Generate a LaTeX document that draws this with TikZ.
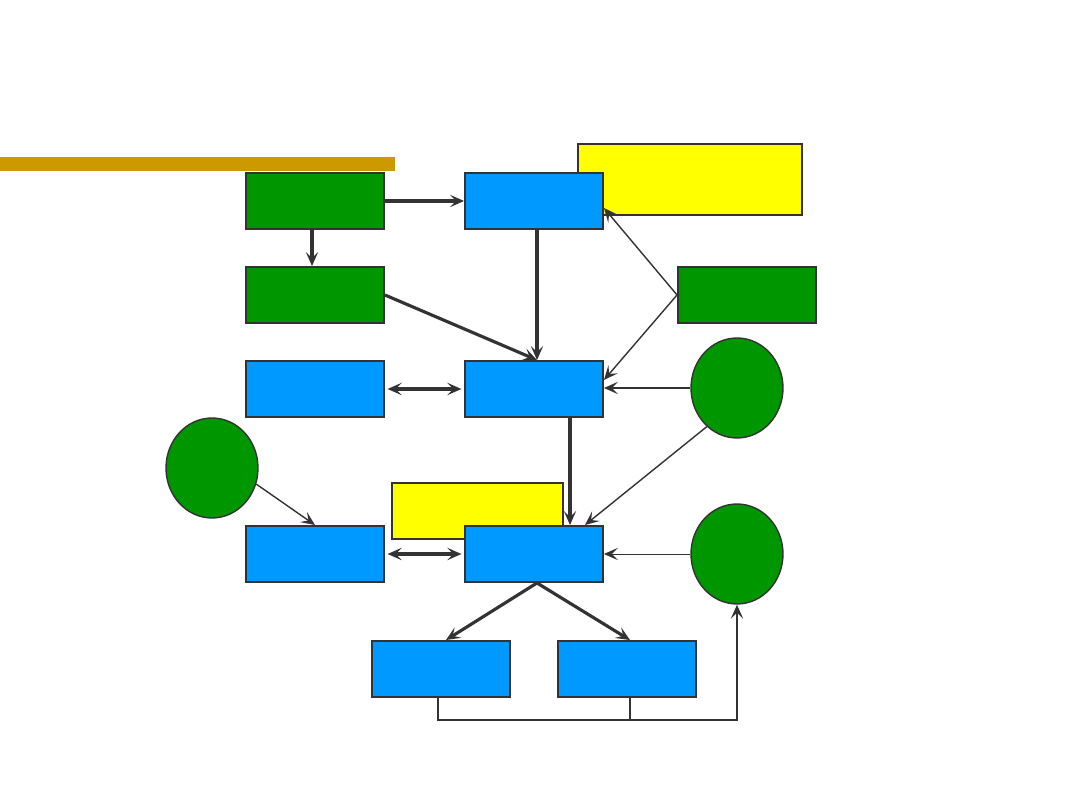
\documentclass[tikz,border=0pt]{standalone}
\usepackage{xcolor}
\usepackage{tikz}
\usetikzlibrary{shapes.geometric, arrows.meta, positioning, calc}
\definecolor{mydark}{RGB}{51,51,51}
\definecolor{boxgreen}{RGB}{0,150,0}
\definecolor{boxblue}{RGB}{0,153,255}
\definecolor{noteyellow}{RGB}{255,255,0}
\definecolor{bargold}{RGB}{204,153,0}
\tikzset{
  greenblock/.style={rectangle,draw=mydark,fill=boxgreen,minimum width=2.76cm,
    minimum height=1.12cm,inner sep=0pt,line width=1.1pt},
  blueblock/.style={rectangle,draw=mydark,fill=boxblue,minimum width=2.76cm,
    minimum height=1.12cm,inner sep=0pt,line width=1.1pt},
  noteblock/.style={rectangle,draw=mydark,fill=noteyellow,inner sep=0pt,line width=0.7pt},
  greencirc/.style={ellipse,draw=mydark,fill=boxgreen,minimum width=1.84cm,
    minimum height=2cm,inner sep=0pt,line width=0.8pt},
  tip/.style={-{Stealth[length=8pt,width=7pt,inset=3.5pt]}},
  arrow/.style={tip,line width=1.8pt,draw=mydark},
  darrow/.style={{Stealth[length=8pt,width=7pt,inset=3.5pt]}-{Stealth[length=8pt,width=7pt,inset=3.5pt]},
    line width=1.8pt,draw=mydark,shorten <=1.5pt,shorten >=1.5pt},
  medarrow/.style={tip,line width=1.2pt,draw=mydark},
  thinarrow/.style={tip,line width=0.8pt,draw=mydark},
  line/.style={line width=0.6pt,draw=mydark}
}
\begin{document}
\begin{tikzpicture}[x=0.02cm,y=-0.02cm]
  \useasboundingbox (0,0) rectangle (1080,810);
  \fill[bargold] (0,157) rectangle (395,171);

  % notes behind the blocks
  \node[noteblock, minimum width=4.48cm, minimum height=1.42cm] (note1) at (690,179.5) {};
  \node[noteblock, minimum width=3.42cm, minimum height=1.12cm] (note2) at (477.5,511) {};

  \node[greenblock] (g1) at (315,201) {};
  \node[blueblock]  (b1) at (534,201) {};
  \node[greenblock] (g2) at (315,295) {};
  \node[greenblock] (g3) at (747,295) {};
  \node[blueblock]  (b2) at (315,389) {};
  \node[blueblock]  (b3) at (534,389) {};
  \node[greencirc]  (c1) at (737,388) {};
  \node[greencirc]  (c2) at (212,468) {};
  \node[blueblock]  (b4) at (315,554) {};
  \node[blueblock]  (b5) at (534,554) {};
  \node[greencirc]  (c3) at (737,554) {};
  \node[blueblock]  (b6) at (441,669) {};
  \node[blueblock]  (b7) at (627,669) {};
  \coordinate (bus) at (737,720);

  \draw[arrow] (g1.east) -- (b1.west);
  \draw[arrow] ([xshift=-0.06cm]g1.south) -- ([xshift=-0.06cm]g2.north);
  \draw[arrow] ([xshift=0.06cm]b1.south) -- ([xshift=0.06cm]b3.north);
  \draw[arrow] (g2.east) -- ([xshift=0.06cm]b3.north);
  \draw[thinarrow] (g3.west) -- ([yshift=-0.14cm]b1.east);
  \draw[thinarrow] (g3.west) -- ([yshift=0.18cm]b3.east);
  \draw[medarrow] (c1.west) -- (c1.west -| b3.east);
  \draw[darrow] (b2.east) -- (b3.west);
  \draw[arrow] ([xshift=0.72cm]b3.south) -- ([xshift=0.72cm]b5.north);
  \draw[thinarrow] (c1.232) -- ([xshift=1.02cm]b5.north);
  \draw[thinarrow] (c2.-20) -- (b4.north);
  \draw[darrow] (b4.east) -- (b5.west);
  \draw[tip,line width=0.5pt,draw=mydark] (c3.west) -- (c3.west -| b5.east);
  \draw[arrow] ([xshift=0.06cm]b5.south) -- ([xshift=0.1cm]b6.north);
  \draw[arrow] ([xshift=0.06cm]b5.south) -- ([xshift=0.06cm]b7.north);
  \draw[medarrow] ([xshift=-0.06cm]b6.south) |- (bus) -- (c3.south);
  \draw[line] ([xshift=0.06cm]b7.south) -- ([xshift=0.06cm]b7.south |- bus);
\end{tikzpicture}
\end{document}
